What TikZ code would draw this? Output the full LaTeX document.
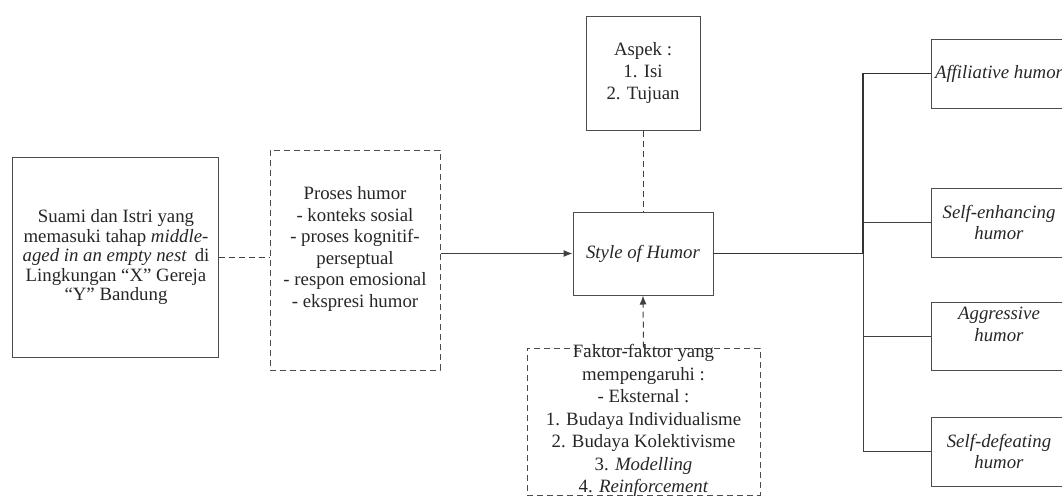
\documentclass[tikz,border=0pt]{standalone}
\usepackage{fontspec}
\setmainfont{Liberation Serif}
\usetikzlibrary{arrows.meta}
\begin{document}
\begin{tikzpicture}[x=1pt,y=-1pt,
  box/.style={draw=black!70, line width=1pt, inner sep=0pt, text=black!85},
  dbox/.style={box, dash pattern=on 6pt off 4pt},
  txt/.style={align=center, inner sep=0pt, text=black!85, font=\fontsize{18.8}{21.5}\selectfont},
  ln/.style={draw=black!75, line width=1pt},
  thk/.style={draw=black!80, line width=1.6pt},
  dln/.style={ln, dash pattern=on 6pt off 4pt},
  arr/.style={-{Latex[length=9pt,width=7pt]}}
]
\useasboundingbox (0,0) rectangle (1062,496);
\clip (0,0) rectangle (1062,496);

% boxes
\node[box, minimum width=206pt, minimum height=200pt] (subj) at (115,257) {};
\node[txt, font=\fontsize{18.8}{19.5}\selectfont] at (116,257)
  {Suami dan Istri yang\\memasuki tahap \textit{middle-}\\\textit{aged in an empty nest}\, di\\Lingkungan “X” Gereja\\“Y” Bandung};

\node[dbox, minimum width=170pt, minimum height=220pt] (proc) at (355,260) {};
\node[txt] at (355,249)
  {Proses humor\\- konteks sosial\\- proses kognitif-\\perseptual\\- respon emosional\\- ekspresi humor};

\node[box, minimum width=114pt, minimum height=114pt, txt, font=\fontsize{18.8}{22}\selectfont] (asp) at (643,73)
  {Aspek :\\1. Isi\\2. Tujuan};

\node[box, minimum width=140pt, minimum height=83pt, txt] (style) at (643,253.5)
  {\textit{Style of Humor}};

\node[dbox, minimum width=233pt, minimum height=147pt] (fak) at (643.5,421.5) {};
\node[txt, font=\fontsize{18.8}{22.5}\selectfont] at (643.5,420.5)
  {Faktor-faktor yang\\mempengaruhi :\\- Eksternal :\\1. Budaya Individualisme\\2. Budaya Kolektivisme\\3. \textit{Modelling}\\4. \textit{Reinforcement}};

\node[box, minimum width=136pt, minimum height=69pt, txt] (aff) at (999,73.5)
  {\textit{Affiliative humor}};
\node[box, minimum width=136pt, minimum height=69pt, txt] (se) at (999,222.5)
  {\textit{Self-enhancing}\\\textit{humor}};
\node[box, minimum width=136pt, minimum height=68pt] (agg) at (999,336) {};
\node[txt] at (999,324.5) {\textit{Aggressive}\\\textit{humor}};
\node[box, minimum width=136pt, minimum height=69pt, txt] (sd) at (999,451.5)
  {\textit{Self-defeating}\\\textit{humor}};

% connectors
\draw[dln] (subj.east) -- (proc.west |- subj.east);
\draw[ln, arr] (proc.east |- style.west) -- (style.west);
\draw[dln] (asp.south) -- (style.north);
\draw[dln, arr] (fak.north) -- (style.south);

\coordinate (j) at (863,253.5);
\draw[thk] (style.east) -- (j);
\draw[thk] (j) |- (aff.west);
\draw[ln] (j) |- (sd.west);
\draw[ln] (j |- se.west) -- (se.west);
\draw[ln] (j |- agg.west) -- (agg.west);
\end{tikzpicture}
\end{document}
